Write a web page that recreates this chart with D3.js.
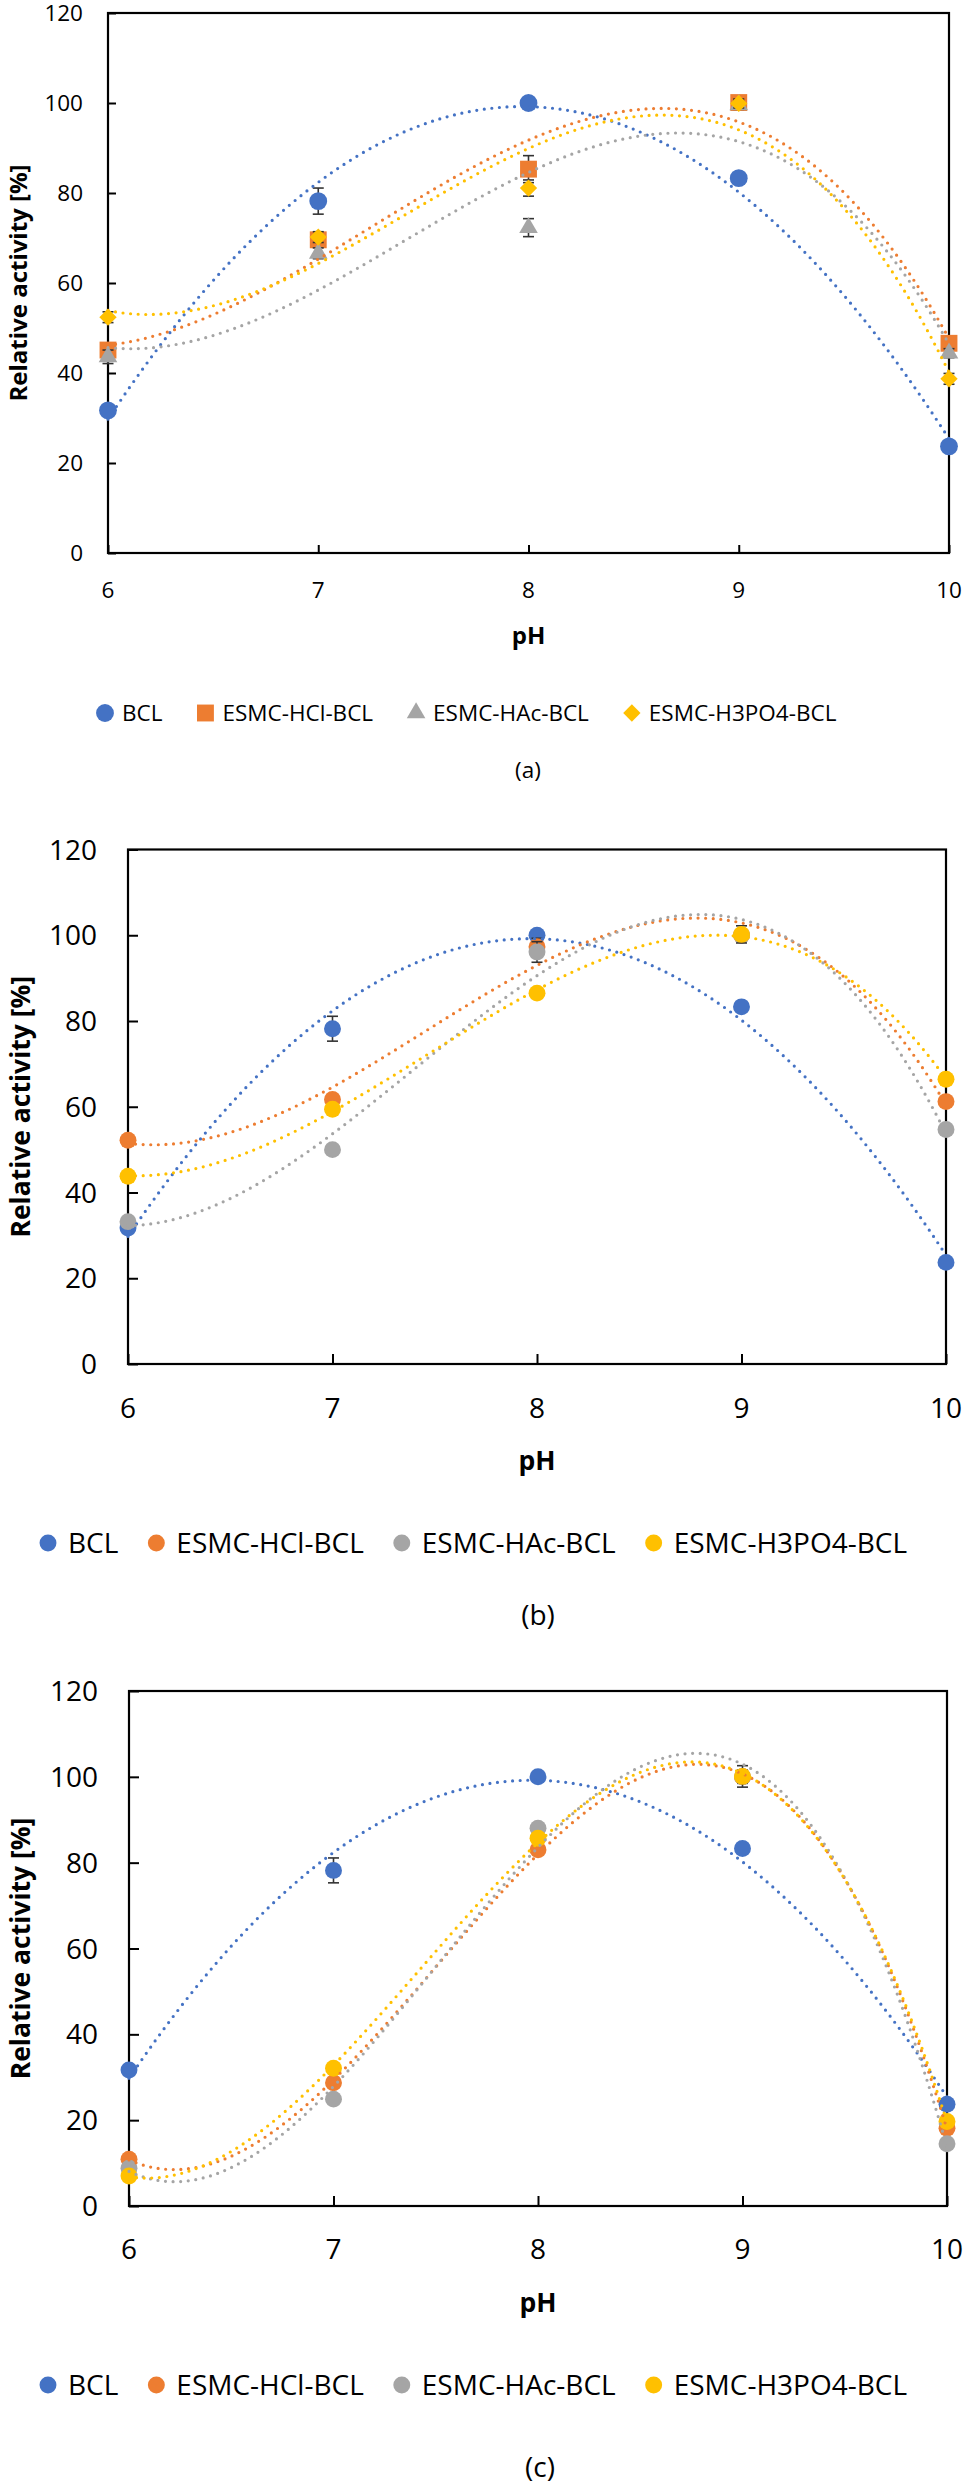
<!DOCTYPE html>
<html>
<head>
<meta charset="utf-8">
<script src="https://cdn.jsdelivr.net/npm/d3@7"></script>
<style>
  html, body { margin: 0; padding: 0; background: #fff; }
  svg { display: block; }
  text { font-family: "Open Sans", "Noto Sans", sans-serif; fill: #000; }
</style>
</head>
<body>
<div id="main"></div>
<script>
// ---- data ----
const pH = [6, 7, 8, 9, 10];
const xTicks = [6, 7, 8, 9, 10];
const yTicks = [0, 20, 40, 60, 80, 100, 120];
const seriesNames = ["BCL", "ESMC-HCl-BCL", "ESMC-HAc-BCL", "ESMC-H3PO4-BCL"];
const colors = ["#4472C4", "#ED7D31", "#A5A5A5", "#FFC000"];
const trendOrder = [2, 3, 3, 3];   // polynomial trendline order per series

// free BCL (same in every panel)
const bclVal = [31.7, 78.2, 100, 83.3, 23.7];
const bclErr = [0.6, 2.9, 0.6, 1.0, 0.6];

// (a)
const aHClVal   = [45.1, 69.6, 85.3, 100.1, 46.6];
const aHClErr   = [1.2, 1.5, 3.0, 1.5, 1.0];
const aHAcVal   = [43.6, 66.6, 72.3, 99.6, 44.4];
const aHAcErr   = [1.5, 1.2, 2.0, 1.0, 1.0];
const aH3PO4Val = [52.4, 70.2, 81.1, 99.9, 38.7];
const aH3PO4Err = [1.2, 1.2, 1.8, 1.0, 1.2];

// (b)
const bHClVal   = [52.2, 61.7, 97.3, 100.0, 61.2];
const bHClErr   = [0.8, 1.0, 2.0, 1.0, 1.0];
const bHAcVal   = [33.2, 50.0, 96.1, 100.0, 54.7];
const bHAcErr   = [0.8, 0.8, 2.4, 1.0, 1.0];
const bH3PO4Val = [43.8, 59.4, 86.5, 100.2, 66.4];
const bH3PO4Err = [0.8, 1.0, 0.8, 2.0, 1.0];

// (c)
const cHClVal   = [10.9, 28.7, 83.0, 100.0, 18.1];
const cHClErr   = [0.8, 1.0, 1.0, 1.5, 1.0];
const cHAcVal   = [8.8, 24.9, 88.0, 100.0, 14.5];
const cHAcErr   = [0.8, 1.0, 1.0, 1.5, 1.0];
const cH3PO4Val = [7.0, 32.1, 85.7, 100.1, 19.7];
const cH3PO4Err = [0.8, 1.0, 1.0, 2.5, 1.0];

// ---- layout ----
const W = 974, H = 2486;
const panels = [
  { caption: "(a)", shapes: ["circle", "square", "triangle", "diamond"],
    vals: [bclVal, aHClVal, aHAcVal, aH3PO4Val], errs: [bclErr, aHClErr, aHAcErr, aH3PO4Err],
    left: 108, right: 949, top: 13, bottom: 553,
    fs: 22.5, titleFs: 24, tick: 8, ylabGap: 25, xlabY: 590, phY: 635, titleX: 18,
    legY: 713, legX: 105, legM2T: 17, legT2M: 43, captionX: 528, captionY: 770 },
  { caption: "(b)", shapes: ["circle", "circle", "circle", "circle"],
    vals: [bclVal, bHClVal, bHAcVal, bH3PO4Val], errs: [bclErr, bHClErr, bHAcErr, bH3PO4Err],
    left: 128, right: 946, top: 849.5, bottom: 1364,
    fs: 28, titleFs: 26.5, tick: 10, ylabGap: 31, xlabY: 1408, phY: 1460, titleX: 20,
    legY: 1543, legX: 48, legM2T: 20, legT2M: 38, captionX: 538, captionY: 1615 },
  { caption: "(c)", shapes: ["circle", "circle", "circle", "circle"],
    vals: [bclVal, cHClVal, cHAcVal, cH3PO4Val], errs: [bclErr, cHClErr, cHAcErr, cH3PO4Err],
    left: 129, right: 947, top: 1691, bottom: 2206,
    fs: 28, titleFs: 26.5, tick: 10, ylabGap: 31, xlabY: 2249, phY: 2302, titleX: 20,
    legY: 2385, legX: 48, legM2T: 20, legT2M: 38, captionX: 540, captionY: 2467 }
];

// least squares polynomial fit (like the spreadsheet trendline)
function polyfit(xs, ys, order) {
  const n = order + 1;
  const A = [], b = [];
  for (let i = 0; i < n; i++) {
    A.push([]);
    for (let j = 0; j < n; j++) A[i].push(d3.sum(xs, x => Math.pow(x, i + j)));
    b.push(d3.sum(xs, (x, k) => ys[k] * Math.pow(x, i)));
  }
  for (let c = 0; c < n; c++) {
    let p = c;
    for (let r = c + 1; r < n; r++) if (Math.abs(A[r][c]) > Math.abs(A[p][c])) p = r;
    [A[c], A[p]] = [A[p], A[c]]; [b[c], b[p]] = [b[p], b[c]];
    for (let r = 0; r < n; r++) {
      if (r === c) continue;
      const f = A[r][c] / A[c][c];
      for (let k = c; k < n; k++) A[r][k] -= f * A[c][k];
      b[r] -= f * b[c];
    }
  }
  const coef = b.map((v, i) => v / A[i][i]);
  return x => d3.sum(coef, (c, i) => c * Math.pow(x, i));
}

function symbolPath(shape, big) {
  if (shape === "square") return d3.symbol(d3.symbolSquare, 285)();
  if (shape === "triangle") return d3.symbol(d3.symbolTriangle, 150)();
  if (shape === "diamond") return d3.symbol(d3.symbolSquare, 150)();
  return d3.symbol(d3.symbolCircle, big ? 250 : 225)();
}

function drawPanel(svg, p) {
  const x = d3.scaleLinear().domain([6, 10]).range([p.left, p.right]);
  const y = d3.scaleLinear().domain([0, 120]).range([p.bottom, p.top]);
  const g = svg.append("g");
  const big = p.shapes[1] !== "circle";

  // frame + axes
  g.append("rect")
    .attr("x", p.left).attr("y", p.top)
    .attr("width", p.right - p.left).attr("height", p.bottom - p.top)
    .attr("fill", "none").attr("stroke", "#000").attr("stroke-width", 2.2);

  const yAxis = g.append("g")
    .attr("transform", `translate(${p.left},0)`)
    .call(d3.axisRight(y).tickValues(yTicks).tickSize(p.tick).tickFormat(""));
  yAxis.select(".domain").remove();
  yAxis.selectAll("line").attr("stroke", "#000").attr("stroke-width", 2);

  const xAxis = g.append("g")
    .attr("transform", `translate(0,${p.bottom})`)
    .call(d3.axisTop(x).tickValues(xTicks).tickSize(p.tick).tickFormat(""));
  xAxis.select(".domain").remove();
  xAxis.selectAll("line").attr("stroke", "#000").attr("stroke-width", 2);

  g.selectAll(".ylab").data(yTicks).join("text")
    .attr("x", p.left - p.ylabGap).attr("y", d => y(d))
    .attr("dy", "0.36em").attr("text-anchor", "end")
    .attr("font-size", p.fs).text(d => d);

  g.selectAll(".xlab").data(xTicks).join("text")
    .attr("x", d => x(d)).attr("y", p.xlabY)
    .attr("dy", "0.36em").attr("text-anchor", "middle")
    .attr("font-size", p.fs).text(d => d);

  g.append("text")
    .attr("x", (p.left + p.right) / 2).attr("y", p.phY).attr("dy", "0.36em")
    .attr("text-anchor", "middle").attr("font-weight", "bold")
    .attr("font-size", p.titleFs).text("pH");

  g.append("text")
    .attr("transform", `translate(${p.titleX},${(p.top + p.bottom) / 2}) rotate(-90)`)
    .attr("dy", "0.36em").attr("text-anchor", "middle").attr("font-weight", "bold")
    .attr("font-size", p.titleFs).text("Relative activity [%]");

  // series: error bars then markers
  p.vals.forEach((vals, s) => {
    const sg = g.append("g");
    const pts = pH.map((ph, i) => ({ x: ph, v: vals[i], e: p.errs[s][i] }));
    const eb = sg.selectAll(".err").data(pts).join("g")
      .attr("stroke", "#333").attr("stroke-width", 1.6);
    eb.append("line").attr("x1", d => x(d.x)).attr("x2", d => x(d.x))
      .attr("y1", d => y(d.v - d.e)).attr("y2", d => y(d.v + d.e));
    eb.append("line").attr("x1", d => x(d.x) - 5.5).attr("x2", d => x(d.x) + 5.5)
      .attr("y1", d => y(d.v + d.e)).attr("y2", d => y(d.v + d.e));
    eb.append("line").attr("x1", d => x(d.x) - 5.5).attr("x2", d => x(d.x) + 5.5)
      .attr("y1", d => y(d.v - d.e)).attr("y2", d => y(d.v - d.e));

    const shape = p.shapes[s];
    sg.selectAll(".pt").data(pts).join("path")
      .attr("d", symbolPath(shape, big))
      .attr("transform", d => `translate(${x(d.x)},${y(d.v)})` + (shape === "diamond" ? " rotate(45)" : ""))
      .attr("fill", colors[s]);
  });

  // dotted polynomial trendlines on top
  const samples = d3.range(0, 201).map(i => 6 + i * 0.02);
  const line = d3.line().x(d => x(d[0])).y(d => y(d[1]));
  p.vals.forEach((vals, s) => {
    const f = polyfit(pH, vals, trendOrder[s]);
    g.append("path")
      .attr("d", line(samples.map(t => [t, f(t)])))
      .attr("fill", "none").attr("stroke", colors[s])
      .attr("stroke-width", 3.2).attr("stroke-linecap", "round")
      .attr("stroke-dasharray", "0 7.6");
  });

  // legend
  let lx = p.legX;
  seriesNames.forEach((name, s) => {
    const shape = p.shapes[s];
    g.append("path")
      .attr("d", symbolPath(shape, big))
      .attr("transform", `translate(${lx},${p.legY})` + (shape === "diamond" ? " rotate(45)" : ""))
      .attr("fill", colors[s]);
    const t = g.append("text")
      .attr("x", lx + p.legM2T).attr("y", p.legY).attr("dy", "0.36em")
      .attr("font-size", p.fs).text(name);
    lx = lx + p.legM2T + t.node().getComputedTextLength() + p.legT2M;
  });

  g.append("text")
    .attr("x", p.captionX).attr("y", p.captionY).attr("dy", "0.36em")
    .attr("text-anchor", "middle").attr("font-size", p.fs).text(p.caption);
}

function main() {
  const svg = d3.select("#main").append("svg")
    .attr("width", W).attr("height", H)
    .attr("viewBox", [0, 0, W, H]);
  panels.forEach(p => drawPanel(svg, p));
}

main();
</script>
</body>
</html>
